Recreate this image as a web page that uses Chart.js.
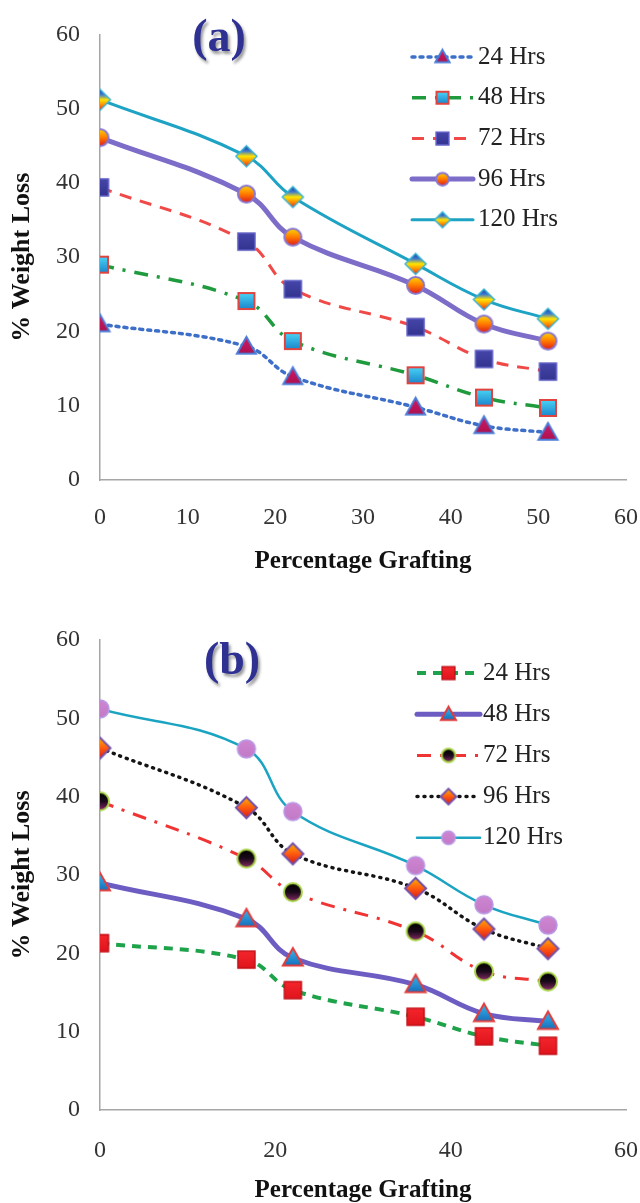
<!DOCTYPE html>
<html lang="en">
<head>
<meta charset="UTF-8">
<title>Weight Loss vs Percentage Grafting</title>
<script src="https://cdn.jsdelivr.net/npm/chart.js"></script>
<style>
  body { margin: 0; background: #fff; }
  canvas { display: block; }
</style>
</head>
<body>
<canvas id="chartA" width="640" height="600"></canvas>
<canvas id="chartB" width="640" height="603"></canvas>
<script>
// data
const seriesNames = ['24 Hrs', '48 Hrs', '72 Hrs', '96 Hrs', '120 Hrs'];
const grafting = [0, 16.7, 22, 36, 43.8, 51.1];

const lossA24  = [21.0, 18.0, 13.9, 9.8, 7.3, 6.4];
const lossA48  = [29.0, 24.1, 18.7, 14.1, 11.1, 9.7];
const lossA72  = [39.4, 32.1, 25.7, 20.6, 16.3, 14.6];
const lossA96  = [46.1, 38.5, 32.7, 26.2, 21.0, 18.7];
const lossA120 = [51.2, 43.6, 38.1, 29.1, 24.3, 21.7];

const lossB24  = [21.3, 19.2, 15.3, 11.9, 9.4, 8.2];
const lossB48  = [29.0, 24.4, 19.4, 16.0, 12.3, 11.3];
const lossB72  = [39.4, 32.1, 27.8, 22.8, 17.7, 16.4];
const lossB96  = [46.2, 38.6, 32.7, 28.3, 23.1, 20.6];
const lossB120 = [51.2, 46.1, 38.1, 31.2, 26.2, 23.6];

const yTicks = [0, 10, 20, 30, 40, 50, 60];
const xTicksA = [0, 10, 20, 30, 40, 50, 60];
const xTicksB = [0, 20, 40, 60];

// marker images (excel style gradient fills)
function marker(shape, size, stops, stroke, lw) {
  const pad = Math.ceil(lw) + 1;
  const d = Math.ceil(size) + pad * 2;
  const c = document.createElement('canvas');
  c.width = d; c.height = d;
  const g = c.getContext('2d');
  const m = d / 2, r = size / 2;
  g.beginPath();
  if (shape === 'circle') g.arc(m, m, r, 0, Math.PI * 2);
  else if (shape === 'rect') g.rect(m - r, m - r, size, size);
  else if (shape === 'triangle') {
    g.moveTo(m, m - r); g.lineTo(m + r, m + r * 0.75); g.lineTo(m - r, m + r * 0.75); g.closePath();
  } else {
    g.moveTo(m, m - r); g.lineTo(m + r, m); g.lineTo(m, m + r); g.lineTo(m - r, m); g.closePath();
  }
  const grad = g.createLinearGradient(0, m - r, 0, m + r);
  stops.forEach((s, i) => grad.addColorStop(stops.length > 1 ? i / (stops.length - 1) : 0, s));
  g.fillStyle = grad;
  g.fill();
  g.lineWidth = lw;
  g.strokeStyle = stroke;
  g.lineJoin = 'miter';
  g.stroke();
  return c;
}

const stylesA = [
  { color: '#3d6fc9', width: 3.5, dash: [3, 5], cap: 'round',
    mk: ['triangle', 19, ['#d01a66', '#a8104c'], '#4a7bd6', 2] },
  { color: '#1f9b3d', width: 3.5, dash: [14, 9, 3, 9], cap: 'butt',
    mk: ['rect', 16, ['#49d3f5', '#1b86cc'], '#e0443e', 2] },
  { color: '#f04a48', width: 3, dash: [12, 9], cap: 'butt',
    mk: ['rect', 17, ['#4646aa', '#33338f'], '#5c5cc4', 1.5] },
  { color: '#7d6dc9', width: 5, dash: [], cap: 'round',
    mk: ['circle', 17, ['#ffd400', '#ff7a00', '#e01a1a'], '#8877cf', 2] },
  { color: '#1ea3c4', width: 3, dash: [], cap: 'round',
    mk: ['diamond', 21, ['#1b3b93', '#3a78d4', '#ffe400', '#ff8a00', '#e02020'], '#36b3d3', 1.5] }
];

const stylesB = [
  { color: '#1fa34a', width: 4, dash: [9, 7], cap: 'butt',
    mk: ['rect', 17, ['#f4262c', '#e0141c'], '#c41018', 1.5] },
  { color: '#6d5dc2', width: 5, dash: [], cap: 'round',
    mk: ['triangle', 20, ['#38b8ee', '#1264b4'], '#e23c3c', 2] },
  { color: '#f03434', width: 3, dash: [14, 9, 3, 9], cap: 'butt',
    mk: ['circle', 18, ['#000000', '#1a0a1a', '#8a2a6a'], '#a6d244', 2] },
  { color: '#141414', width: 3.5, dash: [1, 6], cap: 'round',
    mk: ['diamond', 21, ['#ffb000', '#ff5a10', '#d81818'], '#7352aa', 2] },
  { color: '#1ba4c2', width: 2.5, dash: [], cap: 'round',
    mk: ['circle', 18, ['#cf86d2', '#c279c6'], '#b99ae6', 1.5] }
];

const insideLegend = {
  id: 'insideLegend',
  afterDraw(chart, args, opts) {
    const ctx = chart.ctx;
    chart.data.datasets.forEach((ds, i) => {
      const y = opts.top + i * opts.gap;
      const x0 = opts.left, x1 = opts.left + opts.sample;
      ctx.save();
      ctx.strokeStyle = ds.borderColor;
      ctx.lineWidth = ds.borderWidth;
      ctx.setLineDash(ds.borderDash || []);
      ctx.lineCap = ds.borderCapStyle || 'butt';
      ctx.beginPath();
      ctx.moveTo(x0, y);
      ctx.lineTo(x1, y);
      ctx.stroke();
      const img = opts.markers[i];
      ctx.drawImage(img, (x0 + x1) / 2 - img.width / 2, y - img.height / 2);
      ctx.fillStyle = '#222';
      ctx.font = opts.font;
      ctx.textBaseline = 'middle';
      ctx.textAlign = 'left';
      ctx.fillText(ds.label, x1 + opts.textGap, y);
      ctx.restore();
    });
    // panel tag
    ctx.save();
    ctx.font = 'bold 46px "Liberation Serif", serif';
    ctx.textAlign = 'center';
    ctx.textBaseline = 'middle';
    ctx.shadowColor = 'rgba(0,0,0,0.4)';
    ctx.shadowOffsetX = 2;
    ctx.shadowOffsetY = 3;
    ctx.shadowBlur = 3;
    ctx.fillStyle = '#2e3192';
    ctx.fillText(opts.tag, opts.tagX, opts.tagY);
    ctx.restore();
  }
};

function buildChart(id, sets, styles, xTicks, box, legend) {
  const bigMarkers = styles.map(s => marker(...s.mk));
  const smallMarkers = styles.map(s => marker(s.mk[0], s.mk[1] * 0.75, s.mk[2], s.mk[3], s.mk[4]));
  const datasets = sets.map((vals, i) => ({
    label: seriesNames[i],
    data: grafting.map((x, j) => ({ x: x, y: vals[j] })),
    borderColor: styles[i].color,
    borderWidth: styles[i].width,
    borderDash: styles[i].dash,
    borderCapStyle: styles[i].cap,
    tension: 0.4,
    pointStyle: bigMarkers[i],
    pointRadius: 9,
    pointHoverRadius: 9,
    fill: false
  }));
  legend.markers = smallMarkers;

  return new Chart(document.getElementById(id), {
    type: 'line',
    data: { datasets: datasets },
    plugins: [insideLegend],
    options: {
      responsive: false,
      animation: false,
      layout: { padding: { top: box.top, right: box.right, left: 0, bottom: 0 } },
      plugins: {
        legend: { display: false },
        tooltip: { enabled: false },
        insideLegend: legend
      },
      scales: {
        x: {
          type: 'linear',
          min: 0, max: 60,
          afterBuildTicks: s => { s.ticks = xTicks.map(v => ({ value: v })); },
          afterFit: s => { s.height = box.xHeight; s.paddingRight = 0; s.paddingLeft = 0; },
          grid: { display: false, drawTicks: false },
          border: { display: true, color: '#a6a6a6', width: 1.5 },
          ticks: { padding: box.xPad, color: '#333', font: { family: 'Liberation Serif', size: 24 } },
          title: {
            display: true, text: 'Percentage Grafting', color: '#111',
            font: { family: 'Liberation Serif', size: 25, weight: 'bold' },
            padding: { top: 0, bottom: box.titlePad }
          }
        },
        y: {
          min: 0, max: 60,
          afterBuildTicks: s => { s.ticks = yTicks.map(v => ({ value: v })); },
          afterFit: s => { s.width = 100; },
          grid: { display: false, drawTicks: false },
          border: { display: true, color: '#a6a6a6', width: 1.5 },
          ticks: { padding: 20, color: '#333', font: { family: 'Liberation Serif', size: 24 } },
          title: {
            display: true, text: '% Weight Loss', color: '#111',
            font: { family: 'Liberation Serif', size: 26, weight: 'bold' },
            padding: { top: 7, bottom: 0 }
          }
        }
      }
    }
  });
}

buildChart('chartA', [lossA24, lossA48, lossA72, lossA96, lossA120], stylesA, xTicksA,
  { top: 30, right: 13, xHeight: 120, xPad: 23, titlePad: 23 },
  { left: 412, top: 57, gap: 40.7, sample: 61, textGap: 5, font: '25px "Liberation Serif", serif',
    tag: '(a)', tagX: 219, tagY: 39 });

buildChart('chartB', [lossB24, lossB48, lossB72, lossB96, lossB120], stylesB, xTicksB,
  { top: 40, right: 13, xHeight: 93, xPad: 26, titlePad: -3 },
  { left: 417, top: 73, gap: 41.2, sample: 63, textGap: 3, font: '25px "Liberation Serif", serif',
    tag: '(b)', tagX: 232, tagY: 62 });
</script>
</body>
</html>
